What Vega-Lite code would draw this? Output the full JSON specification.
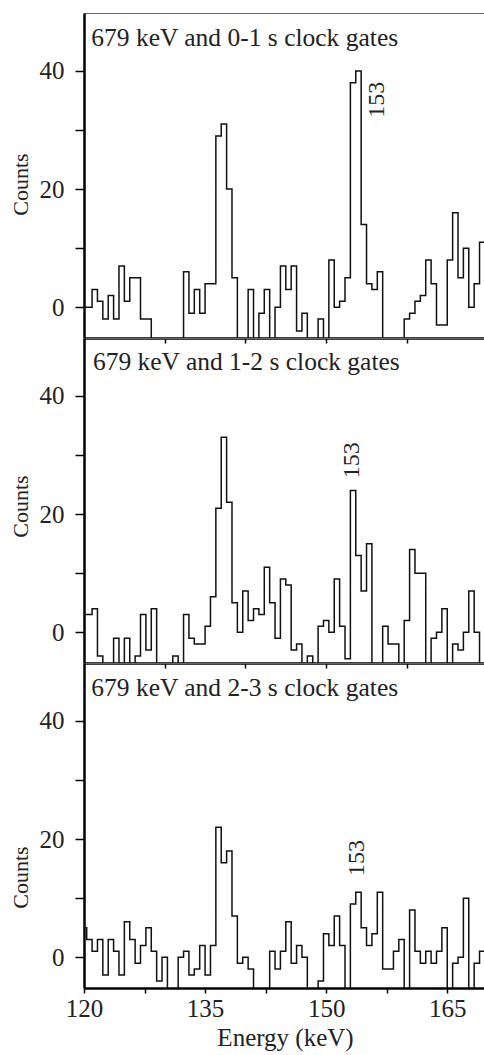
{
  "$schema": "https://vega.github.io/schema/vega-lite/v6.json",
  "padding": {"left": 8, "top": 12, "right": 0, "bottom": 4},
  "bounds": "flush",
  "spacing": 0,
  "config": {
    "font": "Liberation Serif",
    "view": {"stroke": "#666", "strokeWidth": 1},
    "text": {"font": "Liberation Serif"},
    "axis": {"grid": false, "labelFont": "Liberation Serif", "titleFont": "Liberation Serif", "labelFontSize": 25, "titleFontSize": 22, "labelColor": "#222", "titleColor": "#222", "titleFontWeight": "normal", "domainColor": "#000", "domainWidth": 2.5, "tickColor": "#000", "tickWidth": 1.5, "labelFlush": false}
  },
  "datasets": {
    "p1": [
      {"e":120,"c":0},{"e":120.667,"c":0},{"e":121.333,"c":3},{"e":122,"c":1},{"e":122.667,"c":-2},{"e":123.333,"c":2},{"e":124,"c":-2},{"e":124.667,"c":7},{"e":125.333,"c":1},{"e":126,"c":5},{"e":126.667,"c":5},{"e":127.333,"c":-2},{"e":128,"c":-2},{"e":128.667,"c":-9},{"e":129.333,"c":-9},{"e":130,"c":-9},{"e":130.667,"c":-9},{"e":131.333,"c":-9},{"e":132,"c":-9},{"e":132.667,"c":6},{"e":133.333,"c":-1},{"e":134,"c":3},{"e":134.667,"c":-1},{"e":135.333,"c":4},{"e":136,"c":4},{"e":136.667,"c":29},{"e":137.333,"c":31},{"e":138,"c":20},{"e":138.667,"c":5},{"e":139.333,"c":-9},{"e":140,"c":-9},{"e":140.667,"c":3},{"e":141.333,"c":-9},{"e":142,"c":-1},{"e":142.667,"c":3},{"e":143.333,"c":-9},{"e":144,"c":0},{"e":144.667,"c":7},{"e":145.333,"c":3},{"e":146,"c":7},{"e":146.667,"c":-4},{"e":147.333,"c":-1},{"e":148,"c":-9},{"e":148.667,"c":-9},{"e":149.333,"c":-2},{"e":150,"c":-9},{"e":150.667,"c":8},{"e":151.333,"c":0},{"e":152,"c":1},{"e":152.667,"c":5},{"e":153.333,"c":38},{"e":154,"c":40},{"e":154.667,"c":14},{"e":155.333,"c":4},{"e":156,"c":3},{"e":156.667,"c":6},{"e":157.333,"c":-9},{"e":158,"c":-9},{"e":158.667,"c":-9},{"e":159.333,"c":-9},{"e":160,"c":-2},{"e":160.667,"c":-1},{"e":161.333,"c":1},{"e":162,"c":2},{"e":162.667,"c":8},{"e":163.333,"c":4},{"e":164,"c":-3},{"e":164.667,"c":-3},{"e":165.333,"c":8},{"e":166,"c":16},{"e":166.667,"c":5},{"e":167.333,"c":10},{"e":168,"c":0},{"e":168.667,"c":4},{"e":169.333,"c":11},{"e":170,"c":7}
    ],
    "p2": [
      {"e":120,"c":3},{"e":120.667,"c":3},{"e":121.333,"c":4},{"e":122,"c":-4},{"e":122.667,"c":-9},{"e":123.333,"c":-9},{"e":124,"c":-1},{"e":124.667,"c":-9},{"e":125.333,"c":-1},{"e":126,"c":-9},{"e":126.667,"c":-4},{"e":127.333,"c":3},{"e":128,"c":-3},{"e":128.667,"c":4},{"e":129.333,"c":-9},{"e":130,"c":-9},{"e":130.667,"c":-9},{"e":131.333,"c":-4},{"e":132,"c":-9},{"e":132.667,"c":3},{"e":133.333,"c":-1},{"e":134,"c":-2},{"e":134.667,"c":-2},{"e":135.333,"c":1},{"e":136,"c":6},{"e":136.667,"c":21},{"e":137.333,"c":33},{"e":138,"c":22},{"e":138.667,"c":5},{"e":139.333,"c":0},{"e":140,"c":7},{"e":140.667,"c":2},{"e":141.333,"c":4},{"e":142,"c":3},{"e":142.667,"c":11},{"e":143.333,"c":5},{"e":144,"c":-1},{"e":144.667,"c":9},{"e":145.333,"c":8},{"e":146,"c":-3},{"e":146.667,"c":-2},{"e":147.333,"c":-9},{"e":148,"c":-4},{"e":148.667,"c":-9},{"e":149.333,"c":1},{"e":150,"c":2},{"e":150.667,"c":0},{"e":151.333,"c":9},{"e":152,"c":1},{"e":152.667,"c":-4.5},{"e":153.333,"c":24},{"e":154,"c":13},{"e":154.667,"c":7},{"e":155.333,"c":15},{"e":156,"c":-9},{"e":156.667,"c":-9},{"e":157.333,"c":1},{"e":158,"c":-2},{"e":158.667,"c":-2},{"e":159.333,"c":-9},{"e":160,"c":2},{"e":160.667,"c":14},{"e":161.333,"c":10},{"e":162,"c":10},{"e":162.667,"c":-9},{"e":163.333,"c":-1},{"e":164,"c":0},{"e":164.667,"c":4},{"e":165.333,"c":-9},{"e":166,"c":-2},{"e":166.667,"c":-3},{"e":167.333,"c":0},{"e":168,"c":7},{"e":168.667,"c":0},{"e":169.333,"c":-9},{"e":170,"c":7}
    ],
    "p3": [
      {"e":120,"c":5},{"e":120.667,"c":3},{"e":121.333,"c":1},{"e":122,"c":3},{"e":122.667,"c":-3},{"e":123.333,"c":3},{"e":124,"c":1},{"e":124.667,"c":-3},{"e":125.333,"c":6},{"e":126,"c":3},{"e":126.667,"c":-1},{"e":127.333,"c":2},{"e":128,"c":5},{"e":128.667,"c":1},{"e":129.333,"c":-4},{"e":130,"c":0},{"e":130.667,"c":-9},{"e":131.333,"c":-9},{"e":132,"c":0},{"e":132.667,"c":1},{"e":133.333,"c":-3},{"e":134,"c":-2},{"e":134.667,"c":2},{"e":135.333,"c":-3},{"e":136,"c":2},{"e":136.667,"c":22},{"e":137.333,"c":16},{"e":138,"c":18},{"e":138.667,"c":7},{"e":139.333,"c":-1},{"e":140,"c":0},{"e":140.667,"c":-2},{"e":141.333,"c":-9},{"e":142,"c":-9},{"e":142.667,"c":-9},{"e":143.333,"c":1},{"e":144,"c":-2},{"e":144.667,"c":1},{"e":145.333,"c":6},{"e":146,"c":-1},{"e":146.667,"c":2},{"e":147.333,"c":0},{"e":148,"c":-9},{"e":148.667,"c":-9},{"e":149.333,"c":-4},{"e":150,"c":4},{"e":150.667,"c":2},{"e":151.333,"c":7},{"e":152,"c":2},{"e":152.667,"c":-9},{"e":153.333,"c":9},{"e":154,"c":11},{"e":154.667,"c":5},{"e":155.333,"c":2},{"e":156,"c":4},{"e":156.667,"c":11},{"e":157.333,"c":-2},{"e":158,"c":-2},{"e":158.667,"c":1},{"e":159.333,"c":3},{"e":160,"c":-9},{"e":160.667,"c":8},{"e":161.333,"c":1},{"e":162,"c":-1},{"e":162.667,"c":1},{"e":163.333,"c":-1},{"e":164,"c":1},{"e":164.667,"c":5},{"e":165.333,"c":-9},{"e":166,"c":-1},{"e":166.667,"c":0},{"e":167.333,"c":10},{"e":168,"c":-9},{"e":168.667,"c":-1},{"e":169.333,"c":1},{"e":170,"c":2}
    ]
  },
  "vconcat": [
    {
      "width": 402, "height": 325,
      "layer": [
        {
          "data": {"name": "p1"},
          "mark": {"type": "line", "interpolate": "step", "clip": true, "color": "#111", "strokeWidth": 1.5},
          "encoding": {
            "x": {"field": "e", "type": "quantitative", "scale": {"domain": [120, 169.8], "nice": false, "zero": false}, "axis": {"values": [130, 140, 150, 160], "labels": false, "title": null, "tickSize": 5}},
            "y": {"field": "c", "type": "quantitative", "scale": {"domain": [-5.2, 49.8], "nice": false, "zero": false}, "axis": {"values": [0, 10, 20, 30, 40], "labelExpr": "datum.value % 20 === 0 ? datum.label : ''", "title": "Counts", "titleX": -64, "titleY": 171, "titleAngle": 270, "titleBaseline": "middle", "titleAlign": "center", "tickSize": 9, "labelPadding": 11}}
          }
        },
        {
          "data": {"values": [{"t": "679 keV and 0-1 s clock gates", "e": 120.9, "c": 44.3}]},
          "mark": {"type": "text", "align": "left", "baseline": "alphabetic", "fontSize": 25.5, "color": "#222", "font": "Liberation Serif"},
          "encoding": {"x": {"field": "e", "type": "quantitative"}, "y": {"field": "c", "type": "quantitative"}, "text": {"field": "t"}}
        },
        {
          "data": {"values": [{"t": "153", "e": 156.3, "c": 35.1}]},
          "mark": {"type": "text", "angle": 270, "align": "center", "baseline": "middle", "fontSize": 24, "color": "#222", "font": "Liberation Serif"},
          "encoding": {"x": {"field": "e", "type": "quantitative"}, "y": {"field": "c", "type": "quantitative"}, "text": {"field": "t"}}
        }
      ]
    },
    {
      "width": 402, "height": 325,
      "layer": [
        {
          "data": {"name": "p2"},
          "mark": {"type": "line", "interpolate": "step", "clip": true, "color": "#111", "strokeWidth": 1.5},
          "encoding": {
            "x": {"field": "e", "type": "quantitative", "scale": {"domain": [120, 169.8], "nice": false, "zero": false}, "axis": {"values": [130, 140, 150, 160], "labels": false, "title": null, "tickSize": 5}},
            "y": {"field": "c", "type": "quantitative", "scale": {"domain": [-5.2, 49.8], "nice": false, "zero": false}, "axis": {"values": [0, 10, 20, 30, 40], "labelExpr": "datum.value % 20 === 0 ? datum.label : ''", "title": "Counts", "titleX": -64, "titleY": 168, "titleAngle": 270, "titleBaseline": "middle", "titleAlign": "center", "tickSize": 9, "labelPadding": 11}}
          }
        },
        {
          "data": {"values": [{"t": "679 keV and 1-2 s clock gates", "e": 121.1, "c": 44.4}]},
          "mark": {"type": "text", "align": "left", "baseline": "alphabetic", "fontSize": 25.5, "color": "#222", "font": "Liberation Serif"},
          "encoding": {"x": {"field": "e", "type": "quantitative"}, "y": {"field": "c", "type": "quantitative"}, "text": {"field": "t"}}
        },
        {
          "data": {"values": [{"t": "153", "e": 153.2, "c": 29.1}]},
          "mark": {"type": "text", "angle": 270, "align": "center", "baseline": "middle", "fontSize": 24, "color": "#222", "font": "Liberation Serif"},
          "encoding": {"x": {"field": "e", "type": "quantitative"}, "y": {"field": "c", "type": "quantitative"}, "text": {"field": "t"}}
        }
      ]
    },
    {
      "width": 402, "height": 325,
      "layer": [
        {
          "data": {"name": "p3"},
          "mark": {"type": "line", "interpolate": "step", "clip": true, "color": "#111", "strokeWidth": 1.5},
          "encoding": {
            "x": {"field": "e", "type": "quantitative", "scale": {"domain": [120, 169.8], "nice": false, "zero": false}, "axis": {"values": [120, 127.5, 135, 142.5, 150, 157.5, 165], "labelExpr": "datum.value % 15 === 0 ? datum.label : ''", "title": "Energy (keV)", "titleFontSize": 25, "tickSize": 5, "labelPadding": 3}},
            "y": {"field": "c", "type": "quantitative", "scale": {"domain": [-5.2, 49.8], "nice": false, "zero": false}, "axis": {"values": [0, 10, 20, 30, 40], "labelExpr": "datum.value % 20 === 0 ? datum.label : ''", "title": "Counts", "titleX": -64, "titleY": 214, "titleAngle": 270, "titleBaseline": "middle", "titleAlign": "center", "tickSize": 9, "labelPadding": 11}}
          }
        },
        {
          "data": {"values": [{"t": "679 keV and 2-3 s clock gates", "e": 120.9, "c": 44.2}]},
          "mark": {"type": "text", "align": "left", "baseline": "alphabetic", "fontSize": 25.5, "color": "#222", "font": "Liberation Serif"},
          "encoding": {"x": {"field": "e", "type": "quantitative"}, "y": {"field": "c", "type": "quantitative"}, "text": {"field": "t"}}
        },
        {
          "data": {"values": [{"t": "153", "e": 153.8, "c": 16.8}]},
          "mark": {"type": "text", "angle": 270, "align": "center", "baseline": "middle", "fontSize": 24, "color": "#222", "font": "Liberation Serif"},
          "encoding": {"x": {"field": "e", "type": "quantitative"}, "y": {"field": "c", "type": "quantitative"}, "text": {"field": "t"}}
        }
      ]
    }
  ]
}
